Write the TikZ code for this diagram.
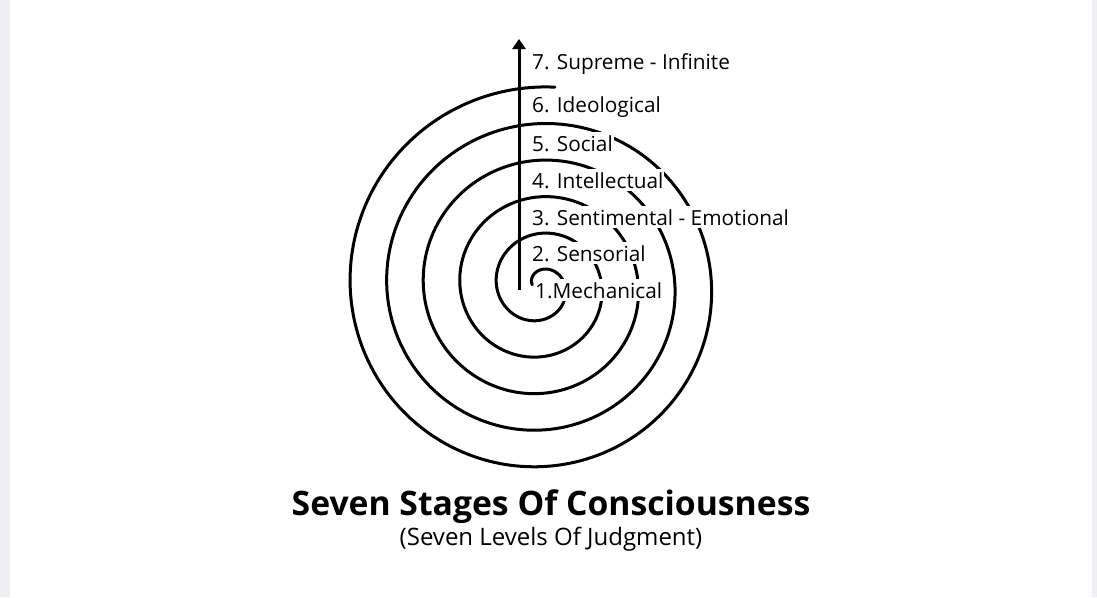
\documentclass[tikz,border=0pt]{standalone}
\usepackage{fontspec}
\setmainfont{Open Sans}[Ligatures={NoCommon}]
\usetikzlibrary{arrows.meta}
\definecolor{edge}{HTML}{EDEFF2}
\tikzset{
  spiralline/.style={line width=3pt, line cap=round},
  stagelabel/.style={anchor=base west, fill=white, inner xsep=1pt, inner ysep=3pt, font=\fontsize{20.8}{22}\selectfont},
  upaxis/.style={line width=3pt, -{Triangle[width=13pt,length=10pt]}},
}
\begin{document}
\begin{tikzpicture}[x=1pt, y=-1pt]
\useasboundingbox (0,0) rectangle (1097,597);
\fill[white] (0,0) rectangle (1097,597);
\fill[edge] (0,0) rectangle (10,597);
\fill[edge] (1092,0) rectangle (1097,597);
% spiral
\draw[spiralline] plot[domain=-0.9:20.05, samples=700, smooth]
  ({540 + (16+9.15*\x)*sin(90*\x)}, {286 - (16+9.15*\x)*cos(90*\x)});
% labels
\node[stagelabel] (s7) at (531,69) {7. Supreme - Infinite};
\node[stagelabel] (s6) at (531,112) {6. Ideological};
\node[stagelabel] (s5) at (531,151) {5. Social};
\node[stagelabel] (s4) at (531,188) {4. Intellectual};
\node[stagelabel] (s3) at (531,225) {3. Sentimental - Emotional};
\node[stagelabel] (s2) at (531,261) {2. Sensorial};
\node[stagelabel] (s1) at (534,298) {1.Mechanical};
% arrow
\coordinate (abot) at (519,290);
\coordinate (atop) at (519,39);
\draw[upaxis] (abot) -- (atop);
% title
\node[anchor=base, font=\bfseries\fontsize{33.7}{36}\selectfont] (title) at (551,515) {Seven Stages Of Consciousness};
\node[anchor=base, font=\fontsize{24}{27}\selectfont] (subtitle) at (551,545) {(Seven Levels Of Judgment)};
\end{tikzpicture}
\end{document}
